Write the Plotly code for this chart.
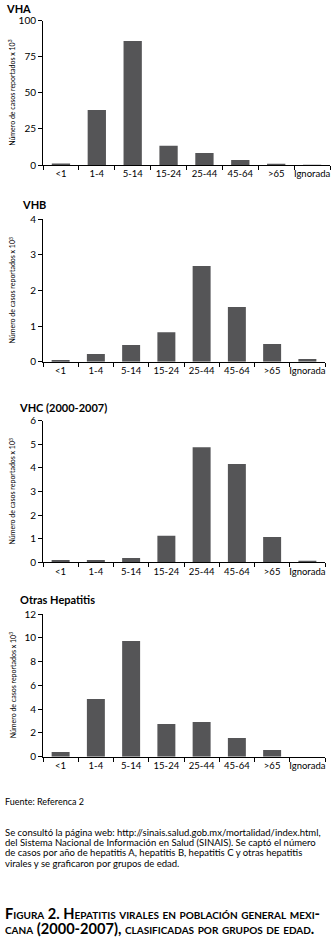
import plotly.graph_objects as go

categories = ["<1", "1-4", "5-14", "15-24", "25-44", "45-64", ">65", "Ignorada"]
vha = [1.0, 38.1, 85.9, 13.4, 8.3, 3.5, 0.8, 0.2]
vhb = [0.05, 0.215, 0.47, 0.83, 2.69, 1.54, 0.5, 0.075]
vhc = [0.1, 0.1, 0.18, 1.12, 4.88, 4.16, 1.07, 0.06]
otras = [0.39, 4.85, 9.73, 2.75, 2.92, 1.57, 0.56, 0.0]
panel_titles = ["VHA", "VHB", "VHC (2000-2007)", "Otras Hepatitis"]
y_ranges = [[0, 100], [0, 4], [0, 6], [0, 12]]
y_dticks = [25, 1, 1, 2]

W, H = 335, 941
FONT = "Lato"
BAR = "#555557"

# pixel geometry: (top, bottom, left, right, title_x, title_y)
geo = [
    (20.7, 165.0, 43, 330, 4, 8),
    (219.3, 361.7, 43, 325, 20, 205),
    (420.7, 562.3, 43, 325, 17, 407),
    (614.0, 756.7, 43, 325, 18, 599),
]

fig = go.Figure()
series = [vha, vhb, vhc, otras]
annotations = []
for i, vals in enumerate(series):
    n = "" if i == 0 else str(i + 1)
    top, bot, left, right, tx, ty = geo[i]
    fig.add_trace(go.Bar(x=categories, y=vals, marker_color=BAR, marker_line_width=0,
                         xaxis="x" + n, yaxis="y" + n, showlegend=False))
    fig.layout["xaxis" + n] = dict(
        domain=[left / W, right / W], anchor="y" + n, type="category",
        range=[-0.5, 7.5], tickson="boundaries", ticks="outside", ticklen=4,
        tickcolor="black", showline=True, linecolor="black", linewidth=1,
        showgrid=False, zeroline=False, tickangle=0, automargin=False,
        tickfont=dict(family=FONT, size=9.5, color="black"),
        fixedrange=True,
    )
    fig.layout["yaxis" + n] = dict(
        domain=[1 - bot / H, 1 - top / H], anchor="x" + n,
        range=y_ranges[i], dtick=y_dticks[i], tick0=0, ticks="outside", ticklen=4,
        tickcolor="black", showline=True, linecolor="black", linewidth=1,
        showgrid=False, zeroline=False, automargin=False,
        tickfont=dict(family=FONT, size=10, color="black"),
        fixedrange=True,
    )
    annotations.append(dict(text="<b>" + panel_titles[i] + "</b>", x=tx / W, y=1 - ty / H,
                            xref="paper", yref="paper", xanchor="left", yanchor="middle",
                            showarrow=False, font=dict(family=FONT, size=11, color="black")))
    annotations.append(dict(text="Número de casos reportados x 10<sup>3</sup>", x=12 / W,
                            y=1 - (top + bot) / 2 / H, xref="paper", yref="paper",
                            xanchor="center", yanchor="middle", textangle=-90,
                            showarrow=False, font=dict(family=FONT, size=7, color="black")))

annotations.append(dict(text="Fuente: Referenca 2", x=3 / W, y=1 - 801 / H, xref="paper",
                        yref="paper", xanchor="left", yanchor="middle", showarrow=False,
                        font=dict(family=FONT, size=9, color="black")))
para = [
    "Se consultó la página web: http://sinais.salud.gob.mx/mortalidad/index.html,",
    "del Sistema Nacional de Información en Salud (SINAIS). Se captó el número",
    "de casos por año de hepatitis A, hepatitis B, hepatitis C y otras hepatitis",
    "virales y se graficaron por grupos de edad.",
]
for k, line in enumerate(para):
    annotations.append(dict(text=line, x=3 / W, y=1 - (832 + 10.4 * k) / H, xref="paper",
                            yref="paper", xanchor="left", yanchor="middle", showarrow=False,
                            font=dict(family=FONT, size=9.5, color="black")))
caption = [
    "Figura 2. Hepatitis virales en población general mexi-",
    "cana (2000-2007), clasificadas por grupos de edad.",
]
for k, line in enumerate(caption):
    annotations.append(dict(text="<b>" + line + "</b>", x=3 / W, y=1 - (913.5 + 14.5 * k) / H,
                            xref="paper", yref="paper", xanchor="left", yanchor="middle",
                            showarrow=False,
                            font=dict(family=FONT, size=14.6, color="black", variant="small-caps")))

fig.update_layout(width=W, height=H, margin=dict(l=0, r=0, t=0, b=0),
                  paper_bgcolor="white", plot_bgcolor="white", bargap=0.49,
                  annotations=annotations)
fig.write_html("out.html", config={"displayModeBar": False},
               post_script="document.body.style.margin='0';document.body.style.padding='0';")
